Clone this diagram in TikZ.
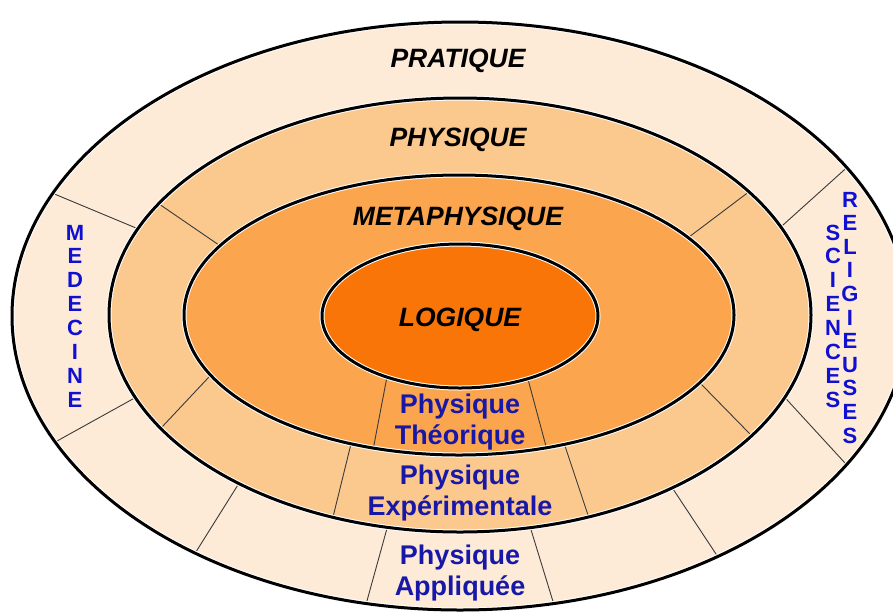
\documentclass[tikz,border=0pt]{standalone}
\usepackage{fontspec}
\setmainfont{Liberation Sans}
\definecolor{ringA}{HTML}{FDEBD7}
\definecolor{ringB}{HTML}{FBC98E}
\definecolor{ringC}{HTML}{FBA54F}
\definecolor{core}{HTML}{F97508}
\definecolor{navy}{RGB}{24,24,168}
\definecolor{vblue}{RGB}{16,16,210}
\definecolor{sepgray}{HTML}{3A3A3A}
\tikzset{
  rimwhite/.style={draw=white, line width=5pt},
  rimblack/.style={draw=black, line width=3pt},
  sepline/.style={draw=sepgray, line width=0.9pt, shorten <=-9pt, shorten >=-9pt},
  lbl/.style={font=\fontsize{26.5}{30}\selectfont\bfseries\itshape, text=black, anchor=base, inner sep=0pt},
  blu/.style={font=\fontsize{27}{31}\selectfont\bfseries, text=navy, anchor=base, inner sep=0pt},
  vlet/.style={font=\fontsize{22}{24}\selectfont\bfseries, text=vblue, anchor=base, inner sep=0pt}
}
\begin{document}
\begin{tikzpicture}[x=1pt,y=-1pt]
\useasboundingbox (0,0) rectangle (893,614);
\clip (0,0) rectangle (893,614);
% ring 1
\fill[ringA] (460,316) ellipse [x radius=448, y radius=294];
\begin{scope}
\clip (460,316) ellipse [x radius=448, y radius=294];
\draw[sepline] (52,193) -- (136,228);
\draw[sepline] (131,400) -- (57,441);
\draw[sepline] (843,171) -- (783,225);
\draw[sepline] (789,402) -- (845,463);
\draw[sepline] (236,488) -- (194,555);
\draw[sepline] (675,492) -- (718,557);
\draw[sepline] (386,532) -- (365,608);
\draw[sepline] (532,533) -- (555,608);
\end{scope}
\draw[rimwhite] (460,316) ellipse [x radius=448, y radius=294];
\draw[rimblack] (460,316) ellipse [x radius=448, y radius=294];
% ring 2
\fill[ringB] (460,315) ellipse [x radius=351, y radius=217];
\begin{scope}
\clip (460,315) ellipse [x radius=351, y radius=217];
\draw[sepline] (162,206) -- (216,243);
\draw[sepline] (746,194) -- (689,237);
\draw[sepline] (208,378) -- (162,427);
\draw[sepline] (703,386) -- (749,433);
\draw[sepline] (349,452) -- (333,517);
\draw[sepline] (567,452) -- (588,515);
\end{scope}
\draw[rimwhite] (460,315) ellipse [x radius=351, y radius=217];
\draw[rimblack] (460,315) ellipse [x radius=351, y radius=217];
% ring 3
\fill[ringC] (459,315) ellipse [x radius=275, y radius=140];
\begin{scope}
\clip (459,315) ellipse [x radius=275, y radius=140];
\draw[sepline] (386,382) -- (373,450);
\draw[sepline] (529,383) -- (547,450);
\end{scope}
\draw[rimwhite] (459,315) ellipse [x radius=275, y radius=140];
\draw[rimblack] (459,315) ellipse [x radius=275, y radius=140];
% core
\fill[core] (460,316) ellipse [x radius=138, y radius=72];
\draw[rimwhite] (460,316) ellipse [x radius=138, y radius=72];
\draw[rimblack] (460,316) ellipse [x radius=138, y radius=72];
% labels
\node[lbl] (pratique) at (458,67) {PRATIQUE};
\node[lbl] (physique) at (458,146) {PHYSIQUE};
\node[lbl] (meta) at (458,225) {METAPHYSIQUE};
\node[lbl] (logique) at (460,326) {LOGIQUE};
\node[blu] (pt1) at (460,413) {Physique};
\node[blu] (pt2) at (460,444) {Théorique};
\node[blu] (pe1) at (460,484) {Physique};
\node[blu] (pe2) at (460,515) {Expérimentale};
\node[blu] (pa1) at (460,564) {Physique};
\node[blu] (pa2) at (460,595) {Appliquée};
\foreach \l [count=\i from 0] in {M,E,D,E,C,I,N,E}
  \node[vlet] (med\i) at (75,240+23.86*\i) {\l};
\foreach \l [count=\i from 0] in {S,C,I,E,N,C,E,S}
  \node[vlet] (sci\i) at (833,240+23.86*\i) {\l};
\foreach \l [count=\i from 0] in {R,E,L,I,G,I,E,U,S,E,S}
  \node[vlet] (rel\i) at (850,207+23.6*\i) {\l};
\end{tikzpicture}
\end{document}
